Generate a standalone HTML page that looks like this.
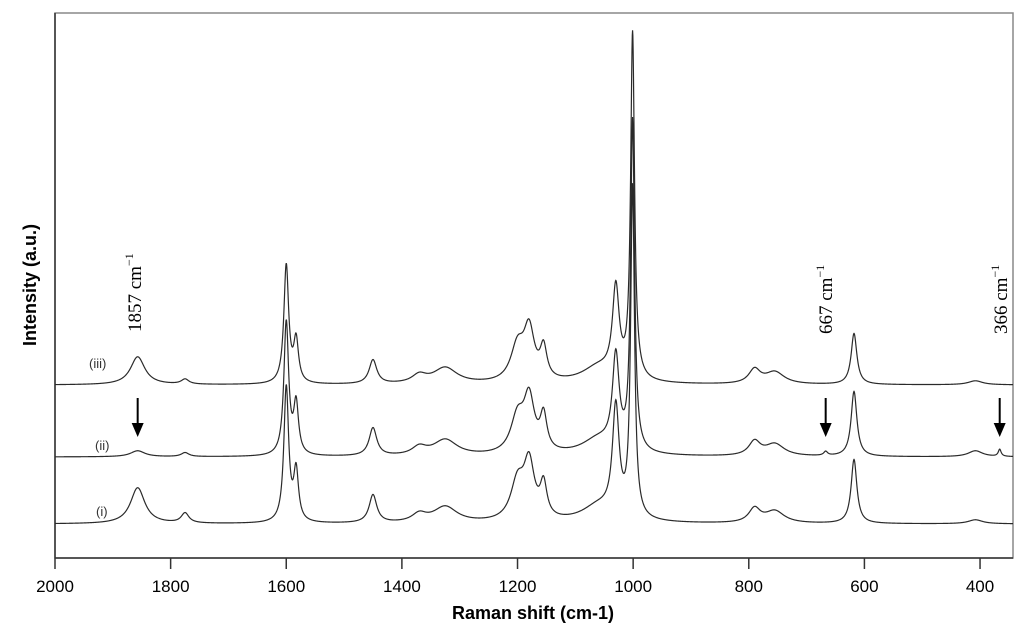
<!DOCTYPE html>
<html><head><meta charset="utf-8">
<style>
body{margin:0;background:#fff;}
svg{display:block;font-family:"Liberation Sans",sans-serif;}
</style></head>
<body>
<svg id="chart" width="1024" height="636">
  <rect x="55" y="13" width="958" height="545" fill="none" stroke="#888" stroke-width="1.5"/>
  <line x1="55" y1="13" x2="55" y2="558" stroke="#333" stroke-width="1.5"/>
  <line x1="55" y1="558" x2="1013" y2="558" stroke="#333" stroke-width="1.5"/>
  <g id="ticks"></g>
  <g id="series"></g>
  <text x="533" y="619" text-anchor="middle" font-weight="bold" font-size="18">Raman shift (cm-1)</text>
  <text transform="translate(36,285) rotate(-90)" text-anchor="middle" font-weight="bold" font-size="18">Intensity (a.u.)</text>
  <text x="89" y="368" font-size="13" fill="#333">(iii)</text>
  <text x="95" y="450" font-size="13" fill="#333">(ii)</text>
  <text x="96" y="516" font-size="13" fill="#333">(i)</text>
  <g font-family="'Liberation Serif',serif" font-size="19">
    <text transform="translate(141,332) rotate(-90)">1857 cm<tspan dy="-8" font-size="12">−1</tspan></text>
    <text transform="translate(832,334) rotate(-90)">667 cm<tspan dy="-8" font-size="12">−1</tspan></text>
    <text transform="translate(1007,334) rotate(-90)">366 cm<tspan dy="-8" font-size="12">−1</tspan></text>
  </g>
  <g id="arrows"></g>
</svg>
<script>
const xTicks=[2000,1800,1600,1400,1200,1000,800,600,400];
const offsets=[34,101,173];
const pos=[1857,1775,1600,1583,1450,1370,1325,1200,1180,1155,1060,1030,1001,790,755,618,667,408,366];
const hw=[15,8,5,5,8,15,25,14,11,7,35,7,4,12,20,6,4,15,3];
const ampI=[36,10,135,50,28,8,16,38,55,33,16,108,330,14,12,64,0,4,0];
const ampII=[6,4,133,50,28,8,16,36,53,35,16,92,330,14,12,65,4,6,7];
const ampIII=[28,5,118,42,24,8,16,35,50,31,16,88,345,14,12,51,0,4,0];
const arrowPos=[1857,667,366];
const xDom=[2000,343],xRng=[55,1013];
const xS=w=>xRng[0]+(xDom[0]-w)*(xRng[1]-xRng[0])/(xDom[0]-xDom[1]);
const yS=v=>558-v;
const NS="http://www.w3.org/2000/svg";
const tg=document.getElementById('ticks');
xTicks.forEach(t=>{
  const l=document.createElementNS(NS,'line');
  l.setAttribute('x1',xS(t));l.setAttribute('x2',xS(t));l.setAttribute('y1',558);l.setAttribute('y2',569);
  l.setAttribute('stroke','#333');l.setAttribute('stroke-width','1.5');
  
  
  tg.appendChild(l);
  const tx=document.createElementNS(NS,'text');
  tx.setAttribute('x',xS(t));tx.setAttribute('y',592);tx.setAttribute('text-anchor','middle');tx.setAttribute('font-size','17');
  tx.textContent=t;
  
  
  tg.appendChild(tx);
});
const sg=document.getElementById('series');
const amps=[ampI,ampII,ampIII];
const names=['spectrum-i','spectrum-ii','spectrum-iii'];
amps.forEach((a,si)=>{
  let d='';
  for(let w=2000;w>=343;w-=0.5){
    let v=offsets[si];
    for(let k=0;k<pos.length;k++){const dx=w-pos[k];v+=a[k]*hw[k]*hw[k]/(hw[k]*hw[k]+dx*dx);}
    d+=(d?'L':'M')+xS(w).toFixed(2)+','+yS(v).toFixed(2);
  }
  const p=document.createElementNS(NS,'path');
  p.setAttribute('d',d);p.setAttribute('fill','none');p.setAttribute('stroke','#2a2a2a');p.setAttribute('stroke-width','1.2');
  
  
  sg.appendChild(p);
});
const ag=document.getElementById('arrows');
arrowPos.forEach(w=>{
  const x=xS(w);
  const l=document.createElementNS(NS,'line');
  l.setAttribute('x1',x);l.setAttribute('x2',x);l.setAttribute('y1',398);l.setAttribute('y2',425);
  l.setAttribute('stroke','#000');l.setAttribute('stroke-width','2');
  
  
  ag.appendChild(l);
  const h=document.createElementNS(NS,'polygon');
  h.setAttribute('points',(x-6)+',423 '+(x+6)+',423 '+x+',437');
  h.setAttribute('fill','#000');
  
  
  ag.appendChild(h);
});
</script>
</body></html>
